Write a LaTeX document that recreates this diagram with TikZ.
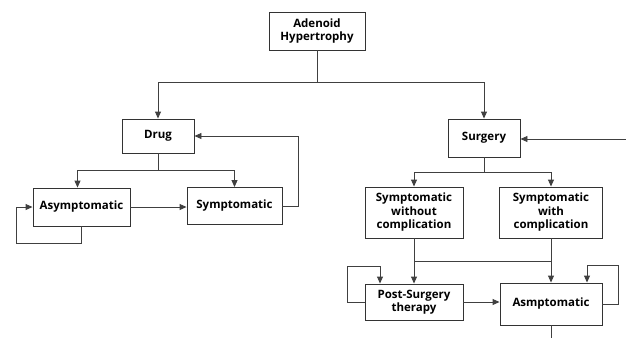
\documentclass[tikz,border=0pt]{standalone}
\usepackage{fontspec}
\setmainfont{Open Sans}
\usetikzlibrary{arrows.meta,calc}
\begin{document}
\begin{tikzpicture}[x=1pt,y=-1pt,
  box/.style={draw=black!80,line width=0.9pt,fill=white,align=center,inner sep=1pt,
    font=\fontsize{11.5}{13.5}\selectfont\bfseries},
  conn/.style={draw=black!75,line width=0.9pt},
  arr/.style={conn,-{Triangle[length=7pt,width=6pt]}}]
\useasboundingbox (0,0) rectangle (626,338);
\node[box,minimum width=96pt,minimum height=38pt] (aden) at (317,31) {Adenoid\\Hypertrophy};
\node[box,minimum width=72pt,minimum height=34pt] (drug) at (158,136) {Drug};
\node[box,minimum width=97pt,minimum height=38pt] (asym) at (81.5,207) {Asymptomatic};
\node[box,minimum width=95pt,minimum height=37pt] (symp) at (234.5,206) {Symptomatic};
\node[box,minimum width=72pt,minimum height=38pt] (surg) at (484,138) {Surgery};
\node[box,minimum width=98pt,minimum height=51pt] (swoc) at (414,212.5) {Symptomatic\\without\\complication};
\node[box,minimum width=103pt,minimum height=51pt] (swc) at (551,212.5) {Symptomatic\\with\\complication};
\node[box,minimum width=98pt,minimum height=36pt] (pst) at (414,302) {Post-Surgery\\therapy};
\node[box,minimum width=102pt,minimum height=42pt] (asmp) at (551,304) {Asmptomatic};
\coordinate (j1) at (317,82);
\coordinate (rin) at (626,139);
\coordinate (bout) at (551,338);
% top split
\draw[conn] (aden.south) -- (j1);
\draw[arr] (j1) -| (drug.north);
\draw[arr] (j1) -| (surg.north);
% drug branch
\draw[conn] (drug.south) -- ++(0,17) coordinate (j2);
\draw[arr] (j2) -| ([xshift=-4pt]asym.north);
\draw[arr] (j2) -| (symp.north);
\draw[arr] (asym.east) -- (asym.east -| symp.west);
\draw[arr] (asym.south) -- ++(0,17) -| ([xshift=-16pt]asym.west) -- (asym.west);
\draw[arr] (symp.east) -- ++(16,0) |- (drug.east);
% surgery branch
\draw[arr] (rin) -- (rin -| surg.east);
\draw[conn] (surg.south) -- ++(0,15) coordinate (j3);
\draw[arr] (j3) -| (swoc.north);
\draw[arr] (j3) -| (swc.north);
\draw[arr] (swoc.south) -- (pst.north);
\draw[arr] (swc.south) -- (asmp.north);
\draw[conn] ($(swoc.south)!0.5!(pst.north)$) coordinate (m1) -- (m1 -| swc.south);
\draw[arr] (pst.east) -- (pst.east -| asmp.west);
\draw[arr] (pst.west) -- ++(-17,0) |- ([xshift=-34pt,yshift=17pt]pst.north) -- ([xshift=-34pt]pst.north);
\draw[arr] (asmp.east) -- ++(16,0) |- ([xshift=36pt,yshift=17pt]asmp.north) -- ([xshift=36pt]asmp.north);
\draw[conn] (asmp.south) -- (bout);
\end{tikzpicture}
\end{document}
